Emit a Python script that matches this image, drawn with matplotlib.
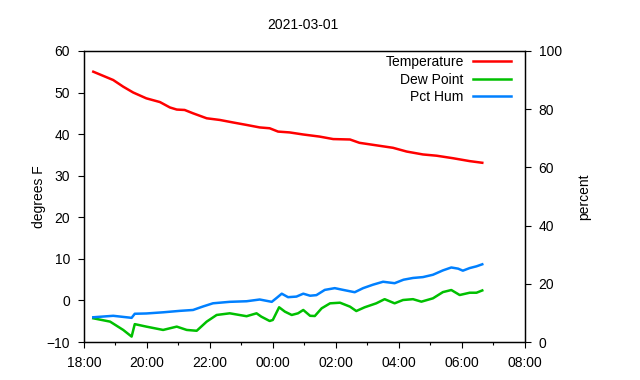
import matplotlib
matplotlib.use("Agg")
import matplotlib.pyplot as plt
from matplotlib.ticker import MultipleLocator

plt.rcParams['font.family'] = ['Liberation Sans', 'DejaVu Sans']

title = "2021-03-01"
x_tick_labels = ["18:00", "20:00", "22:00", "00:00", "02:00", "04:00", "06:00", "08:00"]

temp_times = ["18:18", "18:56", "19:15", "19:34", "19:59", "20:25", "20:44", "20:57", "21:12",
              "21:28", "21:54", "22:19", "22:44", "23:10", "23:35", "23:54", "00:10", "00:32",
              "00:58", "01:29", "01:55", "02:27", "02:45", "03:17", "03:49", "04:15", "04:46",
              "05:12", "05:43", "06:15", "06:39"]
temp_vals = [55.0, 53.0, 51.4, 50.0, 48.6, 47.7, 46.4, 45.9, 45.8,
             45.0, 43.8, 43.4, 42.8, 42.2, 41.6, 41.4, 40.6, 40.4,
             39.9, 39.4, 38.8, 38.7, 37.9, 37.3, 36.7, 35.8, 35.1,
             34.8, 34.2, 33.5, 33.1]

dew_times = ["18:18", "18:50", "19:15", "19:31", "19:37", "19:59", "20:31", "20:57", "21:16",
             "21:35", "21:54", "22:13", "22:38", "23:10", "23:29", "23:38", "23:54", "00:00",
             "00:12", "00:23", "00:36", "00:48", "00:58", "01:11", "01:20", "01:33", "01:49",
             "02:08", "02:27", "02:39", "02:55", "03:17", "03:33", "03:52", "04:08", "04:27",
             "04:43", "05:05", "05:24", "05:40", "05:56", "06:15", "06:28", "06:39"]
dew_vals = [-4.3, -5.1, -7.1, -8.7, -5.7, -6.3, -7.1, -6.3, -7.1,
            -7.3, -5.1, -3.5, -3.1, -3.8, -3.1, -3.9, -4.95, -4.7,
            -1.65, -2.7, -3.5, -3.1, -2.3, -3.7, -3.75, -1.9, -0.7,
            -0.55, -1.5, -2.55, -1.65, -0.7, 0.3, -0.7, 0.1, 0.3,
            -0.3, 0.5, 2.0, 2.5, 1.3, 1.85, 1.85, 2.4]

hum_times = ["18:18", "18:56", "19:31", "19:37", "19:59", "20:31", "21:03", "21:28", "21:47",
             "22:06", "22:38", "23:10", "23:35", "23:58", "00:07", "00:17", "00:29", "00:45",
             "00:58", "01:11", "01:23", "01:39", "01:58", "02:14", "02:36", "02:52", "03:11",
             "03:30", "03:52", "04:09", "04:27", "04:46", "05:05", "05:24", "05:40", "05:53",
             "06:02", "06:15", "06:28", "06:39"]
hum_vals = [8.5, 9.0, 8.3, 9.7, 9.8, 10.2, 10.7, 11.0, 12.2,
            13.3, 13.8, 14.0, 14.6, 13.8, 15.1, 16.6, 15.4, 15.6,
            16.6, 15.9, 16.1, 17.9, 18.5, 17.9, 17.1, 18.5, 19.7,
            20.7, 20.2, 21.4, 22.0, 22.3, 23.1, 24.6, 25.6, 25.2,
            24.5, 25.4, 26.0, 26.7]


def to_hours(t):
    h, m = map(int, t.split(":"))
    v = h + m / 60.0 - 18.0
    if v < 0:
        v += 24.0
    return v


fig = plt.figure(figsize=(6.4, 3.8), dpi=100)
ax = fig.add_axes([0.131, 0.1, 0.689, 0.766])
ax2 = ax.twinx()

l1, = ax.plot([to_hours(t) for t in temp_times], temp_vals, color="#ff0000", lw=1.8, label="Temperature")
l2, = ax.plot([to_hours(t) for t in dew_times], dew_vals, color="#00c000", lw=1.8, label="Dew Point")
l3, = ax2.plot([to_hours(t) for t in hum_times], hum_vals, color="#0080ff", lw=1.8, label="Pct Hum")

ax.set_xlim(0, 14)
ax.set_ylim(-10, 60)
ax2.set_ylim(0, 100)
ax.set_xticks(range(0, 15, 2))
ax.set_xticklabels(x_tick_labels)
ax.xaxis.set_minor_locator(MultipleLocator(1))
ax.yaxis.set_major_locator(MultipleLocator(10))
ax2.yaxis.set_major_locator(MultipleLocator(20))

for a in (ax, ax2):
    a.tick_params(axis='both', which='major', direction='out', length=4, width=0.8, labelsize=10, pad=6)
    a.tick_params(axis='both', which='minor', direction='out', length=2, width=0.8)
    for s in a.spines.values():
        s.set_linewidth(0.9)

ax.set_ylabel("degrees F", fontsize=10, labelpad=0)
ax2.set_ylabel("percent", fontsize=10, labelpad=11)
fig.text(0.473, 0.934, title, ha='center', va='center', fontsize=10)

leg = ax.legend(handles=[l1, l2, l3], loc='upper right', frameon=False, markerfirst=False,
                fontsize=10, handlelength=2.7, handletextpad=0.7, labelspacing=0.25,
                borderpad=0.2, borderaxespad=0.1, bbox_to_anchor=(0.978, 1.0))
for t in leg.get_texts():
    t.set_ha('right')

fig.savefig("out.png", dpi=100)
